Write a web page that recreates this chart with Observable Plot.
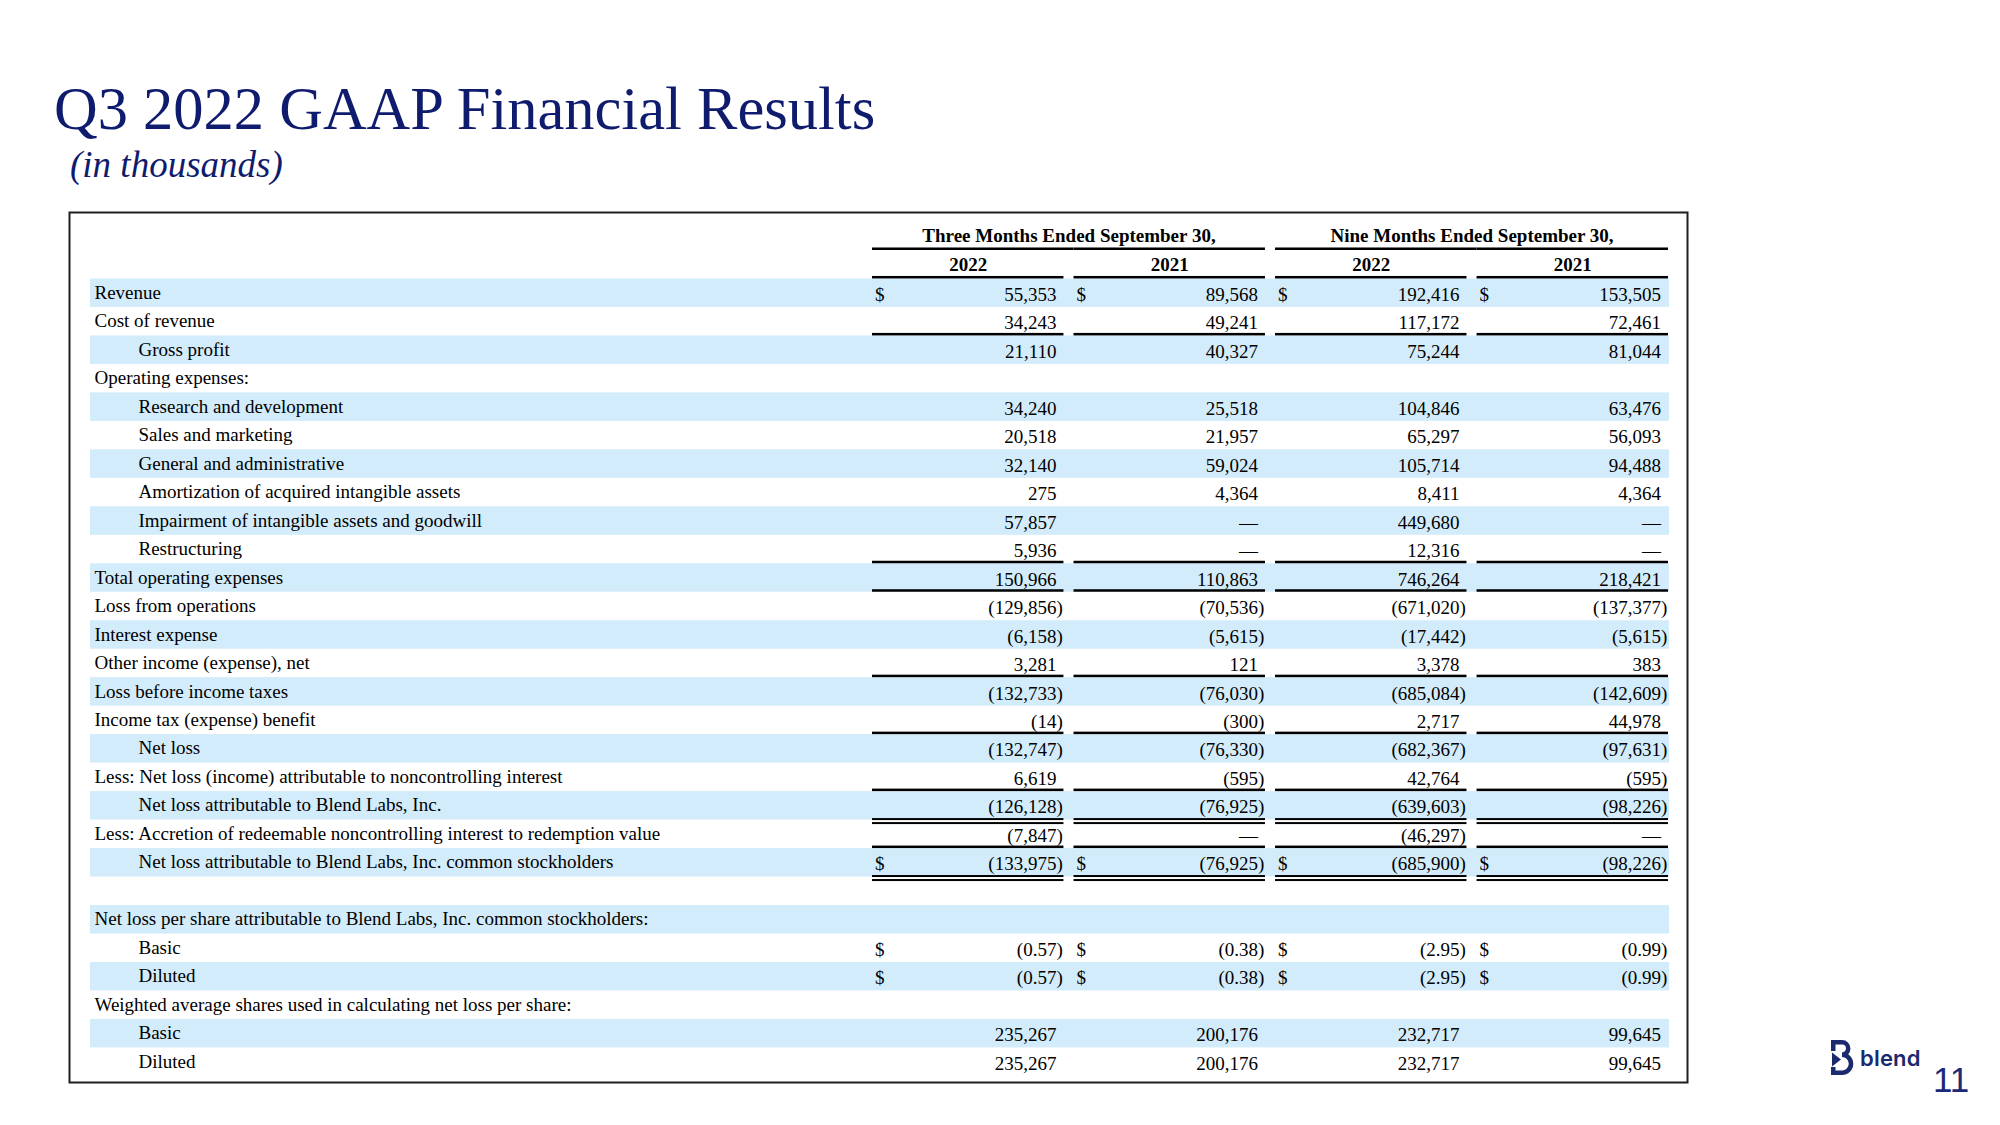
<!DOCTYPE html>
<html>
<head>
<meta charset="utf-8">
<script src="https://cdn.jsdelivr.net/npm/d3@7"></script>
<script src="https://cdn.jsdelivr.net/npm/@observablehq/plot@0.6"></script>
<style>
  html, body { margin: 0; padding: 0; background: #fff; }
  #page { position: relative; width: 2000px; height: 1125px; overflow: hidden; background: #fff; }
  #chart { position: absolute; left: 0; top: 0; }
  .title { position: absolute; left: 54px; top: 79px; font: 60.5px/1 "Liberation Serif", serif; color: #0f1c6e; white-space: nowrap; }
  .subtitle { position: absolute; left: 70px; top: 146px; font: italic 37px/1 "Liberation Serif", serif; color: #0f1c6e; white-space: nowrap; }
  .logo-icon { position: absolute; left: 1831px; top: 1040px; }
  .logo-text { position: absolute; left: 1860px; top: 1047px; font: 600 22px/1 Inter, sans-serif; color: #1b2a6e; letter-spacing: 0.2px; }
  .pageno { position: absolute; left: 1933px; top: 1062px; font: 35px/1 "Liberation Sans", sans-serif; color: #1a2a78; }
</style>
</head>
<body>
<div id="page">
  <div id="chart"></div>
  <div class="title">Q3 2022 GAAP Financial Results</div>
  <div class="subtitle">(in thousands)</div>
  <svg class="logo-icon" width="24" height="36" viewBox="0 0 24 36">
    <path d="M2.25,11 V2.25 H11 A6.2,6.2 0 0 1 11,14.7 A9.02,9.02 0 0 1 11,32.75 H2.25 V27" fill="none" stroke="#1b2a6e" stroke-width="4.5"/>
    <path d="M1,12.5 L10,19.5 L1,26.5 Z" fill="#1b2a6e"/>
  </svg>
  <div class="logo-text">blend</div>
  <div class="pageno">11</div>
</div>
<script>
// ---------------- DATA ----------------
const periodLabels = ["Three Months Ended September 30,", "Nine Months Ended September 30,"];
const colKeys = ["q3_2022", "q3_2021", "ytd_2022", "ytd_2021"];
const yearLabels = ["2022", "2021", "2022", "2021"];

const lineItems = [
  "Revenue",
  "Cost of revenue",
  "Gross profit",
  "Operating expenses:",
  "Research and development",
  "Sales and marketing",
  "General and administrative",
  "Amortization of acquired intangible assets",
  "Impairment of intangible assets and goodwill",
  "Restructuring",
  "Total operating expenses",
  "Loss from operations",
  "Interest expense",
  "Other income (expense), net",
  "Loss before income taxes",
  "Income tax (expense) benefit",
  "Net loss",
  "Less: Net loss (income) attributable to noncontrolling interest",
  "Net loss attributable to Blend Labs, Inc.",
  "Less: Accretion of redeemable noncontrolling interest to redemption value",
  "Net loss attributable to Blend Labs, Inc. common stockholders",
  "",
  "Net loss per share attributable to Blend Labs, Inc. common stockholders:",
  "Basic",
  "Diluted",
  "Weighted average shares used in calculating net loss per share:",
  "Basic",
  "Diluted"
];

// values in thousands (per-share rows in dollars); 0 is shown as a dash, null = no value
const q3_2022 = [55353, 34243, 21110, null, 34240, 20518, 32140, 275, 57857, 5936, 150966, -129856, -6158, 3281, -132733, -14, -132747, 6619, -126128, -7847, -133975, null, null, -0.57, -0.57, null, 235267, 235267];
const q3_2021 = [89568, 49241, 40327, null, 25518, 21957, 59024, 4364, 0, 0, 110863, -70536, -5615, 121, -76030, -300, -76330, -595, -76925, 0, -76925, null, null, -0.38, -0.38, null, 200176, 200176];
const ytd_2022 = [192416, 117172, 75244, null, 104846, 65297, 105714, 8411, 449680, 12316, 746264, -671020, -17442, 3378, -685084, 2717, -682367, 42764, -639603, -46297, -685900, null, null, -2.95, -2.95, null, 232717, 232717];
const ytd_2021 = [153505, 72461, 81044, null, 63476, 56093, 94488, 4364, 0, 0, 218421, -137377, -5615, 383, -142609, 44978, -97631, -595, -98226, 0, -98226, null, null, -0.99, -0.99, null, 99645, 99645];

// ---------------- STRUCTURE ----------------
const series = {q3_2022, q3_2021, ytd_2022, ytd_2021};
const childRows = new Set([2, 4, 5, 6, 7, 8, 9, 16, 18, 20, 23, 24, 26, 27]);
const perShareRows = new Set([23, 24]);
const dollarRows = new Set([0, 20, 23, 24]);
const singleRuleRows = [1, 9, 10, 13, 15, 17, 19];
const doubleRuleRows = [18, 20];

const rowIds = d3.range(lineItems.length);
const yDomain = ["h1", "h2", ...rowIds];
const shaded = rowIds.filter(i => i % 2 === 0);

const fmtInt = d3.format(",");
const fmtEps = d3.format(".2f");
const cells = [];
rowIds.forEach(i => {
  colKeys.forEach(k => {
    const v = series[k][i];
    if (v == null) return;
    const f = perShareRows.has(i) ? fmtEps : fmtInt;
    cells.push({row: i, col: k, v, neg: v < 0, body: v === 0 ? "\u2014" : (v < 0 ? "(" : "") + f(Math.abs(v))});
  });
});
const dollarCells = cells.filter(d => dollarRows.has(d.row));
const labelRows = rowIds.map(i => ({row: i, label: lineItems[i]})).filter(d => d.label);
const yearCells = colKeys.map((k, j) => ({col: k, label: yearLabels[j]}));
const periodCells = [{col: colKeys[0], label: periodLabels[0]}, {col: colKeys[2], label: periodLabels[1]}];

const singleRules = [];
colKeys.forEach(k => singleRuleRows.forEach(r => singleRules.push({row: r, col: k})));
const doubleRules = [];
colKeys.forEach(k => doubleRuleRows.forEach(r => doubleRules.push({row: r, col: k})));

// ---------------- LAYOUT ----------------
const W = 2000, H = 1125;
const xRange = [872, 1668], padIn = 0.05;
const step = (xRange[1] - xRange[0]) / (colKeys.length - padIn);
const bw = step * (1 - padIn);
const yRange = [221.5, 221.5 + 28.48 * yDomain.length];
const bh = (yRange[1] - yRange[0]) / yDomain.length;
const font = {fontFamily: "Liberation Serif", fontSize: 19, fill: "#000"};
const ink = "#000";

const plot = Plot.plot({
  width: W, height: H,
  marginLeft: 69, marginRight: W - 1687, marginTop: 212, marginBottom: H - 1082,
  x: {type: "band", domain: colKeys, range: xRange, paddingInner: padIn, paddingOuter: 0, round: false, axis: null},
  y: {type: "band", domain: yDomain, range: yRange, padding: 0, round: false, axis: null},
  marks: [
    // zebra bands
    Plot.cell(shaded, {y: d => d, fill: "#d3ecfb", insetLeft: 21, insetRight: 18}),
    // table box
    Plot.frame({stroke: "#1e1e1e", strokeWidth: 2}),
    // header: period labels and their underlines
    Plot.text(periodCells, {x: "col", y: () => "h1", text: "label", dx: step / 2, fontWeight: "bold", ...font}),
    Plot.cell(periodCells, {x: "col", y: () => "h1", fill: ink, insetTop: bh - 2.5, insetRight: -(step - bw)}),
    Plot.cell(colKeys.filter((k, j) => j % 2 === 1), {x: d => d, y: () => "h1", fill: ink, insetTop: bh - 2.5}),
    // header: years and their underlines
    Plot.text(yearCells, {x: "col", y: () => "h2", text: "label", dy: 0, fontWeight: "bold", ...font}),
    Plot.cell(yearCells, {x: "col", y: () => "h2", fill: ink, insetTop: bh - 2.5}),
    // line-item labels
    Plot.text(labelRows.filter(d => !childRows.has(d.row)), {y: "row", text: "label", frameAnchor: "left", textAnchor: "start", dx: 25, dy: -0.5, ...font}),
    Plot.text(labelRows.filter(d => childRows.has(d.row)), {y: "row", text: "label", frameAnchor: "left", textAnchor: "start", dx: 69, dy: -0.5, ...font}),
    // values
    Plot.text(cells, {x: "col", y: "row", text: "body", textAnchor: "end", dx: bw / 2 - 7.5, dy: 1.5, ...font}),
    Plot.text(cells.filter(d => d.neg), {x: "col", y: "row", text: () => ")", textAnchor: "start", dx: bw / 2 - 7.5, dy: 1.5, ...font}),
    Plot.text(dollarCells, {x: "col", y: "row", text: () => "$", textAnchor: "start", dx: -bw / 2 + 2.5, dy: 1.5, ...font}),
    // rules under subtotal rows
    Plot.cell(singleRules, {x: "col", y: "row", fill: ink, insetTop: bh - 2.5}),
    Plot.cell(doubleRules, {x: "col", y: "row", fill: ink, insetTop: bh - 1.5, insetBottom: -0.5}),
    Plot.cell(doubleRules, {x: "col", y: "row", fill: ink, insetTop: bh + 2.5, insetBottom: -4.5})
  ]
});
document.getElementById("chart").appendChild(plot);
</script>
</body>
</html>
